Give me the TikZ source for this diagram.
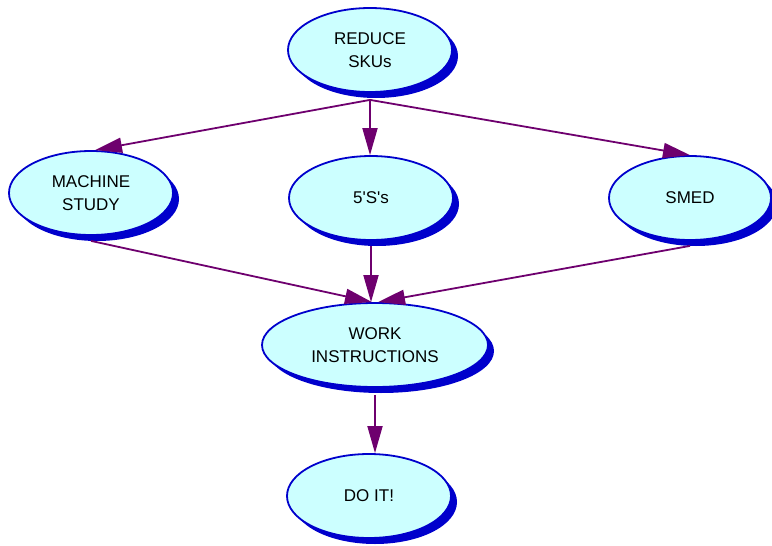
\documentclass[tikz,border=0pt]{standalone}
\usepackage{fontspec}
\setmainfont{Liberation Sans}
\usetikzlibrary{shapes.geometric,arrows.meta,shadows}
\definecolor{nodefill}{HTML}{CCFFFF}
\definecolor{nodeblue}{HTML}{0000CC}
\definecolor{arrowpurple}{HTML}{6E006E}
\tikzset{
  bubble/.style={ellipse, draw=nodeblue, line width=1.8pt, fill=nodefill,
    minimum width=164pt, minimum height=84pt, inner sep=0pt, align=center,
    font=\fontsize{17}{23}\selectfont,
    drop shadow={shadow xshift=6pt, shadow yshift=-6pt, fill=nodeblue, opacity=1}},
  link/.style={draw=arrowpurple, line width=1.8pt,
    -{Triangle[length=27pt,width=15pt]}}
}
\begin{document}
\begin{tikzpicture}[x=1pt,y=-1pt]
\useasboundingbox (0,0) rectangle (772,546);
\node[bubble] (reduce) at (370,50) {REDUCE\\SKUs};
\node[bubble] (machine) at (91,193) {MACHINE\\STUDY};
\node[bubble] (fives) at (371,198) {5\textquotesingle S\textquotesingle s};
\node[bubble, minimum width=162pt] (smed) at (690,198) {SMED};
\node[bubble, minimum width=226pt] (work) at (375,345) {WORK\\INSTRUCTIONS};
\node[bubble] (doit) at (369,496) {DO IT!};
\coordinate (rb) at ([yshift=-7pt]reduce.south);
\draw[link] (rb) -- ([xshift=4pt]machine.north);
\draw[link] (rb) -- (rb |- fives.north);
\draw[link] (rb) -- (smed.north);
\draw[link] ([yshift=-5pt]machine.south) -- ([xshift=-3pt]work.north);
\draw[link] ([yshift=-5pt]fives.south) -- (fives.south |- work.north);
\draw[link] ([yshift=-5pt]smed.south) -- ([xshift=3pt]work.north);
\draw[link] ([yshift=-7pt]work.south) -- (work.south |- doit.north);
\end{tikzpicture}
\end{document}
